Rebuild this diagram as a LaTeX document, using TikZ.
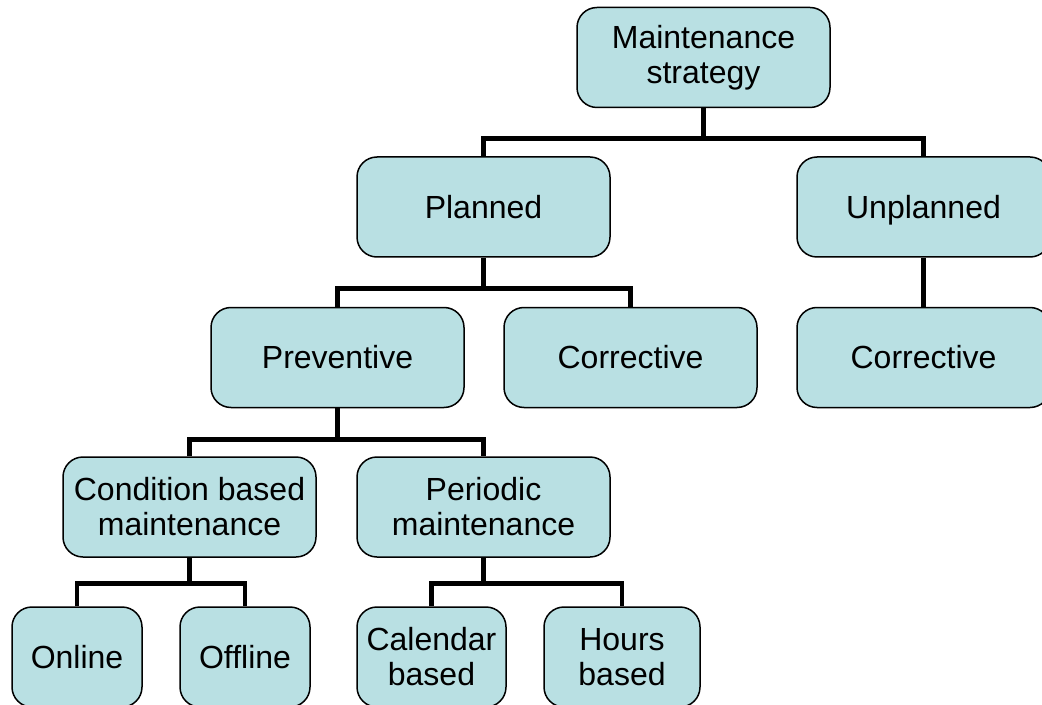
\documentclass[tikz,border=0pt]{standalone}
\usepackage{fontspec}
\setmainfont{Liberation Sans}
\usetikzlibrary{positioning}

\definecolor{boxfill}{RGB}{185,224,227}

\tikzset{
	% 方框样式
	box/.style={draw=black, line width=0.75pt, fill=boxfill, rounded corners=10pt,
		minimum width=126.5pt, minimum height=50pt, align=center,
		font=\fontsize{16}{17.5}\selectfont, inner sep=2pt},
	small box/.style={box, minimum width=65pt},
	% 连线样式
	link/.style={line width=2.4pt, black}
}

\begin{document}
\begin{tikzpicture}[x=0.5pt, y=-0.5pt]
		% 画布大小
		\useasboundingbox (0, 0) rectangle (1042, 705);

		% 第一层
		\node[box] (strategy) at (703.5, 57.5) {Maintenance\\strategy};
		% 第二层
		\node[box] (planned) at (483.5, 207) {Planned};
		\node[box, text depth=0pt] (unplanned) at (923.5, 207) {Unplanned};
		% 第三层
		\node[box] (preventive) at (337.5, 357.5) {Preventive};
		\node[box] (corrective1) at (630.5, 357.5) {Corrective};
		\node[box] (corrective2) at (923.5, 357.5) {Corrective};
		% 第四层
		\node[box] (condition) at (189.5, 507) {Condition based\\maintenance};
		\node[box] (periodic) at (483.5, 507) {Periodic\\maintenance};
		% 第五层
		\node[small box] (online) at (77, 657) {Online};
		\node[small box] (offline) at (245, 657) {Offline};
		\node[small box, minimum width=74.5pt] (calendar) at (431.5, 657) {Calendar\\based};
		\node[small box, minimum width=78pt] (hours) at (622, 657) {Hours\\based};

		% 画树的连线
		\foreach \p/\a/\b/\d in {strategy/planned/unplanned/30, planned/preventive/corrective1/31,
				preventive/condition/periodic/31, condition/online/offline/26, periodic/calendar/hours/26} {
				\draw[link] (\p.south) -- ++(0, \d) coordinate (bar) (\a.north) |- (bar) -| (\b.north);
			}
		\draw[link] (unplanned.south) -- (corrective2.north);
	\end{tikzpicture}
\end{document}
